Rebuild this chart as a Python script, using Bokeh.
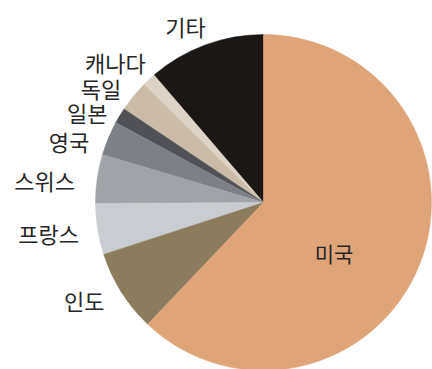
import math
from bokeh.plotting import figure
from bokeh.models import Range1d, ColumnDataSource
from bokeh.core.properties import value
from bokeh.embed import file_html
from bokeh.resources import INLINE

# ---- data (share of total, %) ----
countries = ["기타", "캐나다", "독일", "일본", "영국", "스위스", "프랑스", "인도", "미국"]
shares = [11.3, 1.3, 3.0, 1.5, 3.3, 4.7, 4.9, 7.9, 62.1]

# ---- style ----
colors = ["#1b1715", "#ddd3c6", "#cbbca9", "#505257", "#7d8086",
          "#a0a3a8", "#c9ccd1", "#8a7c5d", "#e0a479"]
# label placement (radius in px, angle nudge in degrees)
label_r = [193, 204, 199, 198, 204, 220, 217, 204, 87]
label_nudge = [3.5, 3.5, 4, 4, 5, 2.3, -1.2, -3.7, -14]
label_sizes = ["22px"] * 8 + ["21px"]

W, H = 432, 369
cx, cy, R = 263, H - 202, 168

total = sum(shares)
starts, ends, mids = [], [], []
a = math.pi / 2
for s in shares:
    span = s / total * 2 * math.pi
    starts.append(a)
    ends.append(a + span)
    mids.append(a + span / 2)
    a += span

src = ColumnDataSource(dict(start=starts, end=ends, color=colors,
                            x=[cx] * len(shares), y=[cy] * len(shares)))

p = figure(width=W, height=H, output_backend="svg", toolbar_location=None,
           x_range=Range1d(0, W), y_range=Range1d(0, H),
           x_axis_location=None, y_axis_location=None, min_border=0)
p.grid.visible = False
p.outline_line_color = None
p.background_fill_color = "white"
p.border_fill_color = "white"

p.wedge(x="x", y="y", radius=R, start_angle="start", end_angle="end",
        fill_color="color", line_color="color", line_width=0.5, source=src)

lx, ly = [], []
for m, r, n in zip(mids, label_r, label_nudge):
    ang = m + math.radians(n)
    lx.append(cx + r * math.cos(ang))
    ly.append(cy + r * math.sin(ang))

lsrc = ColumnDataSource(dict(x=lx, y=ly, text=countries, size=label_sizes))
p.text(x="x", y="y", text="text", source=lsrc, text_align="center",
       text_baseline="middle", text_font=value("Noto Sans CJK KR"),
       text_font_size="size", text_color="#262626")

open("out.html", "w").write(file_html(p, INLINE))
